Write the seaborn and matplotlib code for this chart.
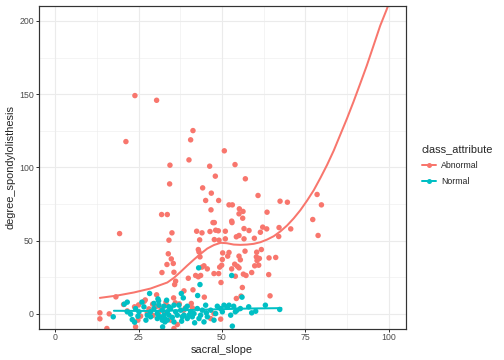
import pandas as pd
import matplotlib
matplotlib.use('Agg')
import matplotlib.pyplot as plt
from matplotlib.lines import Line2D
from matplotlib.ticker import MultipleLocator
import seaborn as sns

# Abnormal cases: sacral_slope, degree_spondylolisthesis
abn_x = [23.9, 30.4, 21.2, 41.3, 40.6, 40.1, 34.4, 50.7, 53.9, 46.3, 57.0, 48.0,
         34.3, 44.2, 46.8, 60.8, 78.5, 79.8, 67.4, 69.6, 45.1, 49.0, 52.1, 53.1,
         63.5, 55.2, 56.3, 46.7, 31.9, 33.6, 56.2, 55.1, 47.3, 47.7, 53.0, 52.9,
         77.2, 19.3, 35.0, 42.4, 44.0, 46.4, 48.1, 48.9, 51.0, 56.6, 58.1, 62.2,
         63.4, 67.1, 70.6, 67.0, 78.8, 34.1, 43.3, 47.7, 49.1, 51.0, 54.3, 55.1,
         59.7, 61.5, 56.6, 42.9, 43.1, 33.9, 56.9, 60.4, 61.8, 50.2, 52.1, 51.7,
         34.8, 43.4, 55.1, 60.3, 61.2, 60.5, 64.1, 66.1, 50.1, 55.5, 35.4, 33.5,
         44.6, 44.0, 45.6, 49.3, 49.9, 52.9, 53.8, 54.6, 55.1, 59.8, 61.0, 35.6,
         32.0, 47.6, 49.0, 57.2, 54.0, 56.4, 58.9, 64.0, 39.9, 42.1, 42.9, 43.6,
         36.1, 35.8, 49.7, 56.1, 41.3, 38.6, 54.3, 55.7, 35.5, 64.4, 44.7, 18.2,
         26.7, 23.8, 20.5, 25.0, 29.2, 30.4, 33.2, 33.4, 40.8, 13.4, 13.4, 16.2,
         15.5, 24.1, 24.8, 35.6, 36.6, 28.1, 30.5, 31.8, 27.6, 29.3, 46.6, 49.6,
         47.6, 41.1, 38.5, 21.6, 25.6, 32.9, 34.6, 37.2, 39.0, 27.0, 31.0, 36.0]
abn_y = [149.0, 145.8, 117.6, 125.1, 118.8, 105.1, 101.5, 111.3, 101.9, 100.8, 92.2, 94.0,
         88.7, 86.0, 82.4, 80.8, 81.5, 74.4, 76.9, 76.2, 77.4, 77.4, 74.4, 74.4,
         69.4, 71.7, 69.9, 71.0, 67.8, 67.8, 65.3, 68.3, 62.3, 62.3, 62.3, 63.3,
         64.4, 54.8, 55.3, 56.4, 55.3, 56.2, 57.1, 56.7, 56.4, 58.2, 56.9, 59.2,
         58.0, 58.9, 58.0, 52.8, 53.5, 50.3, 50.5, 50.7, 50.3, 51.2, 52.6, 53.5,
         51.6, 55.7, 51.2, 43.9, 42.3, 41.0, 42.8, 42.1, 43.9, 41.6, 41.9, 39.4,
         37.5, 38.9, 39.4, 38.9, 37.8, 36.4, 38.2, 38.5, 37.1, 36.9, 34.4, 33.7,
         32.8, 31.9, 30.7, 31.9, 33.2, 30.7, 33.9, 32.5, 31.4, 32.8, 33.2, 28.4,
         28.2, 27.5, 27.5, 26.2, 25.7, 27.1, 28.2, 26.8, 24.3, 26.2, 25.3, 26.2,
         22.3, 20.0, 21.4, 18.0, 16.4, 15.7, 10.5, 12.1, 10.9, 12.3, 11.4, 11.6,
         8.6, 4.8, 6.4, 6.1, 6.6, 13.0, 8.0, 5.7, 7.1, 0.7, -3.4, 0.0,
         -10.0, -8.9, -4.3, -10.0, -7.3, 3.4, 5.2, 3.6, 0.7, -1.1, -3.2, -3.6,
         0.2, 4.1, 2.5, 2.0, -1.6, 0.5, -4.3, 6.8, 4.0, 9.5, 1.0, 7.5]

# Normal cases
nor_x = [17.4, 20.7, 21.6, 22.6, 23.1, 23.8, 26.0, 28.3, 27.2, 30.8, 31.0, 33.4,
         37.8, 38.4, 42.7, 43.0, 43.4, 52.9, 56.0, 32.2, 32.9, 35.6, 37.9, 41.8,
         44.6, 47.6, 53.1, 58.9, 60.1, 63.0, 67.3, 51.6, 52.6, 53.5, 54.5, 48.6,
         49.6, 45.3, 44.1, 43.6, 40.6, 39.6, 37.6, 36.6, 35.6, 34.6, 33.6, 32.6,
         32.1, 31.4, 30.6, 29.6, 28.6, 27.6, 26.6, 25.1, 24.1, 32.8, 33.6, 35.1,
         36.1, 38.6, 39.1, 41.6, 42.6, 45.1, 46.6, 48.1, 50.6, 52.1, 29.6, 31.1,
         32.6, 34.1, 37.1, 40.1, 41.1, 45.6, 50.1, 55.5, 58.0, 32.1, 30.6, 28.6,
         34.1, 38.1, 39.6, 43.1, 54.0, 24.8, 21.6]
nor_y = [-2.0, 6.6, 8.0, -0.2, -3.9, -5.7, 8.0, 13.9, -4.3, 10.2, 8.9, 9.3,
         13.9, 10.9, 12.5, 31.4, 20.0, 26.2, 11.4, -8.9, -5.5, -5.5, -5.0, -6.1,
         -5.5, -4.3, -8.4, 0.7, 1.8, 5.9, 3.0, 4.8, -0.9, 5.2, 2.5, 5.2,
         3.6, 0.7, 2.5, -0.9, 1.4, 5.2, 2.5, -0.9, 5.9, 3.6, 1.4, -0.9,
         2.5, -2.0, 0.2, 3.6, 1.4, -0.9, 4.8, 1.4, 3.6, -3.2, -4.3, -2.5,
         1.4, -0.9, 3.6, 0.2, 3.6, 5.9, 2.5, 0.2, 5.9, 5.9, 7.1, 5.9,
         5.2, 4.8, 5.9, -0.9, -2.0, -2.0, 1.4, 3.6, 4.8, -4.3, -3.2, -2.0,
         -0.9, -2.0, -3.2, -3.2, 1.4, -1.6, 1.4]

# Smoothed trend lines
abn_fit_x = [13.4, 18.6, 23.6, 28.6, 33.6, 35.6, 37.6, 39.6, 41.6, 43.6, 45.6, 47.6,
             49.6, 51.5, 53.5, 55.5, 57.5, 59.5, 61.5, 63.5, 65.5, 67.5, 69.5, 71.5,
             73.5, 75.5, 77.5, 79.5, 81.5, 83.5, 85.4, 87.4, 89.4, 91.4, 93.4, 95.4,
             97.4, 99.4, 101.0]
abn_fit_y = [10.9, 12.5, 14.6, 17.3, 21.4, 24.6, 28.7, 33.0, 37.1, 41.0, 44.6, 47.0,
             48.5, 48.2, 47.3, 47.1, 47.3, 47.8, 48.9, 50.7, 53.0, 56.3, 60.3, 65.2,
             70.8, 77.3, 84.4, 92.8, 101.7, 111.5, 122.0, 133.0, 144.7, 157.0, 169.5, 183.0,
             196.6, 208.0, 218.0]
nor_fit_x = [17.6, 25.0, 30.0, 35.0, 40.0, 45.0, 50.0, 55.0, 60.0, 67.8]
nor_fit_y = [2.1, 2.0, 2.0, 2.2, 2.6, 2.9, 3.2, 3.5, 3.7, 3.9]

classes = ['Abnormal', 'Normal']
colors = ['#F8766D', '#00BFC4']

pts = pd.DataFrame({
    'sacral_slope': abn_x + nor_x,
    'degree_spondylolisthesis': abn_y + nor_y,
    'class_attribute': ['Abnormal'] * len(abn_x) + ['Normal'] * len(nor_x),
})
fits = pd.DataFrame({
    'sacral_slope': abn_fit_x + nor_fit_x,
    'degree_spondylolisthesis': abn_fit_y + nor_fit_y,
    'class_attribute': ['Abnormal'] * len(abn_fit_x) + ['Normal'] * len(nor_fit_x),
})

sns.set_style('white')
plt.rcParams['font.family'] = ['Liberation Sans', 'DejaVu Sans']

fig = plt.figure(figsize=(7, 5), dpi=72)
# panel placed on half-pixel edges so the grey border renders crisp
ax = fig.add_axes([38.5 / 504, 1 - 328.5 / 360, (405 - 38) / 504, (328 - 5) / 360])

sns.scatterplot(data=pts, x='sacral_slope', y='degree_spondylolisthesis',
                hue='class_attribute', hue_order=classes, palette=colors,
                s=30, linewidth=0, ax=ax, legend=False, zorder=3)
sns.lineplot(data=fits, x='sacral_slope', y='degree_spondylolisthesis',
             hue='class_attribute', hue_order=classes, palette=colors,
             linewidth=2, ax=ax, legend=False, sort=False, estimator=None, zorder=4)

ax.set_xlim(-5, 105)
ax.set_ylim(-10, 210.5)
ax.xaxis.set_major_locator(MultipleLocator(25))
ax.xaxis.set_minor_locator(MultipleLocator(12.5))
ax.yaxis.set_major_locator(MultipleLocator(50))
ax.yaxis.set_minor_locator(MultipleLocator(25))
ax.grid(which='major', color='#EBEBEB', linewidth=1.1, zorder=0)
ax.grid(which='minor', color='#EBEBEB', linewidth=0.55, zorder=0)
ax.set_axisbelow(True)
for sp in ax.spines.values():
    sp.set_visible(True)
    sp.set_color('#333333')
    sp.set_linewidth(1.2)
    sp.set_zorder(6)
ax.tick_params(which='major', length=2.75, width=1, color='#333333',
               labelsize=8.8, labelcolor='#4D4D4D', pad=2, left=True, bottom=True)
ax.tick_params(which='minor', length=0)
ax.set_xlabel('sacral_slope', fontsize=11, labelpad=3)
ax.set_ylabel('degree_spondylolisthesis', fontsize=11, labelpad=3)

handles = [Line2D([0], [0], color=c, marker='o', markersize=5, linewidth=2,
                  markeredgewidth=0) for c in colors]
leg = fig.legend(handles, classes, title='class_attribute', loc='center left',
                 bbox_to_anchor=(414 / 504, 1 - 165 / 360), frameon=False,
                 fontsize=8.8, title_fontsize=11, handlelength=1.6,
                 handletextpad=0.6, labelspacing=0.8)
leg._legend_box.align = 'left'

fig.savefig('out.png', dpi=72)
